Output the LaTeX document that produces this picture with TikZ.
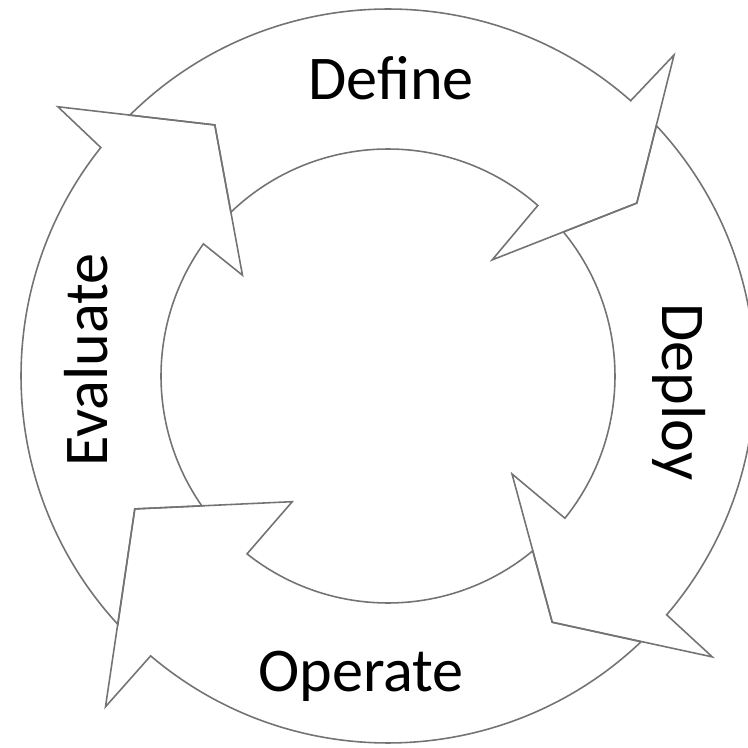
\documentclass[tikz,border=0pt]{standalone}
\usepackage{fontspec}
\setmainfont{Carlito}
\begin{document}
\begin{tikzpicture}[ring/.style={draw=black!55, line width=0.45pt, line join=miter},
  lbl/.style={font=\fontsize{17.7}{20}\selectfont, anchor=base, inner sep=0pt}]
\useasboundingbox (-3.88,-3.72) rectangle (3.60,3.76);

% tips of the four arrows (each one is the notch of the next tail)
\coordinate (deftip) at (34.8:3.03);
\coordinate (deptip) at (-56.3:2.96);
\coordinate (opetip) at (-152.3:2.86);
\coordinate (evatip) at (124.6:3.05);

% Define
\draw [ring] (134.7:3.67) arc [start angle=134.7, end angle=48.6, radius=3.67]
  -- (48.3:4.30) -- (deftip) -- (48.1:1.56) -- (48.7:2.27)
  arc [start angle=48.7, end angle=133.8, radius=2.27] -- (evatip) -- cycle;
% Deploy
\draw [ring] (43.0:3.67) arc [start angle=43.0, end angle=-40.6, radius=3.67]
  -- (-40.9:4.29) -- (deptip) -- (-38.3:1.58) -- (-38.8:2.27)
  arc [start angle=-38.8, end angle=39.4, radius=2.27] -- (deftip) -- cycle;
% Operate
\draw [ring] (-46.4:3.67) arc [start angle=-46.4, end angle=-130.3, radius=3.67]
  -- (-130.5:4.35) -- (opetip) -- (-127.3:1.58) -- (-128.4:2.27)
  arc [start angle=-128.4, end angle=-50.4, radius=2.27] -- (deptip) -- cycle;
% Evaluate
\draw [ring] (222.6:3.67) arc [start angle=222.6, end angle=141.5, radius=3.67]
  -- (140.8:4.26) -- (evatip) -- (145.3:1.77) -- (144.4:2.27)
  arc [start angle=144.4, end angle=214.9, radius=2.27] -- (opetip) -- cycle;

\node (define) [lbl] at (0.03,2.76) {Define};
\node (deploy) [lbl, rotate=-90] at (2.74,-0.16) {Deploy};
\node (operate) [lbl] at (-0.27,-3.15) {Operate};
\node (evaluate) [lbl, rotate=90] at (-2.80,0.16) {Evaluate};
\end{tikzpicture}
\end{document}
